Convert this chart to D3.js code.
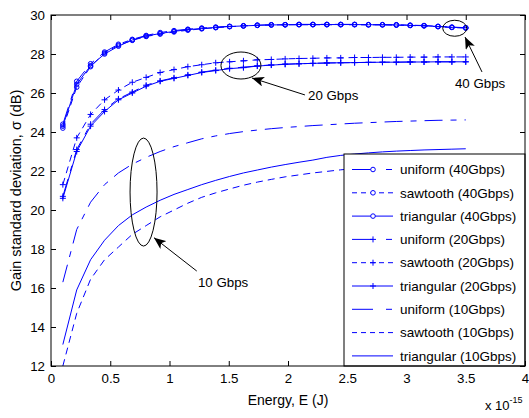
<!DOCTYPE html>
<html>
<head>
<meta charset="utf-8">
<script src="https://cdn.jsdelivr.net/npm/d3@7"></script>
<style>
  body { margin: 0; background: #fff; }
  svg text { font-family: "Liberation Sans", Arial, sans-serif; fill: #000; }
</style>
</head>
<body>
<div id="chart"></div>
<script>
// energy samples (x 1e-15 J)
const energy = [0.100, 0.217, 0.334, 0.452, 0.569, 0.686, 0.803, 0.921, 1.038, 1.155,
                1.272, 1.390, 1.507, 1.624, 1.741, 1.859, 1.976, 2.093, 2.210, 2.328,
                2.445, 2.562, 2.679, 2.797, 2.914, 3.031, 3.148, 3.266, 3.383, 3.500];

const uniform40 = [24.4, 26.6, 27.5, 28.1, 28.5, 28.75, 28.95, 29.1, 29.2, 29.27, 29.33, 29.38, 29.42, 29.45, 29.48, 29.5, 29.5, 29.52, 29.52, 29.52,
                   29.52, 29.52, 29.5, 29.5, 29.5, 29.48, 29.46, 29.42, 29.38, 29.35];
const sawtooth40 = [24.2, 26.3, 27.35, 28.05, 28.45, 28.7, 28.9, 29.02, 29.13, 29.22, 29.29, 29.35, 29.4, 29.44, 29.47, 29.49, 29.5, 29.5, 29.5, 29.5,
                    29.5, 29.5, 29.5, 29.5, 29.48, 29.46, 29.44, 29.4, 29.36, 29.33];
const triangular40 = [24.3, 26.45, 27.4, 28.0, 28.4, 28.72, 28.92, 29.05, 29.16, 29.25, 29.31, 29.36, 29.41, 29.44, 29.47, 29.49, 29.5, 29.51, 29.51, 29.51,
                      29.51, 29.51, 29.5, 29.5, 29.49, 29.47, 29.45, 29.41, 29.37, 29.34];

const uniform20 = [20.7, 23.1, 24.4, 25.15, 25.7, 26.05, 26.4, 26.62, 26.78, 26.93, 27.07, 27.17, 27.27, 27.32, 27.39, 27.44, 27.48, 27.5, 27.52, 27.54,
                   27.55, 27.56, 27.57, 27.58, 27.58, 27.59, 27.59, 27.6, 27.6, 27.6];
const sawtooth20 = [21.3, 23.7, 24.9, 25.65, 26.15, 26.55, 26.8, 27.05, 27.2, 27.35, 27.45, 27.55, 27.6, 27.65, 27.7, 27.72, 27.75, 27.77, 27.78, 27.8,
                    27.8, 27.82, 27.82, 27.83, 27.83, 27.84, 27.84, 27.85, 27.85, 27.85];
const triangular20 = [20.6, 23.0, 24.3, 25.05, 25.65, 26.0, 26.35, 26.6, 26.75, 26.9, 27.05, 27.15, 27.25, 27.3, 27.38, 27.43, 27.47, 27.5, 27.52, 27.54,
                      27.55, 27.56, 27.57, 27.58, 27.58, 27.59, 27.59, 27.6, 27.6, 27.6];

const uniform10 = [16.3, 19.0, 20.4, 21.3, 21.9, 22.35, 22.7, 23.0, 23.25, 23.45, 23.65, 23.8, 23.92, 24.02, 24.1, 24.17, 24.23, 24.28, 24.33, 24.37,
                   24.41, 24.45, 24.48, 24.51, 24.54, 24.56, 24.58, 24.6, 24.61, 24.62];
const sawtooth10 = [12.0, 14.7, 16.45, 17.45, 18.1, 18.75, 19.2, 19.65, 20.0, 20.35, 20.65, 20.88, 21.08, 21.27, 21.43, 21.57, 21.7, 21.8, 21.9, 21.98,
                    22.06, 22.13, 22.2, 22.26, 22.31, 22.36, 22.4, 22.44, 22.47, 22.5];
const triangular10 = [13.1, 15.9, 17.45, 18.45, 19.2, 19.75, 20.15, 20.5, 20.8, 21.05, 21.3, 21.52, 21.72, 21.9, 22.05, 22.2, 22.33, 22.45, 22.56, 22.7,
                      22.8, 22.87, 22.93, 22.98, 23.02, 23.05, 23.08, 23.1, 23.12, 23.14];

const seriesNames = ["uniform (40Gbps)", "sawtooth (40Gbps)", "triangular (40Gbps)",
                     "uniform (20Gbps)", "sawtooth (20Gbps)", "triangular (20Gbps)",
                     "uniform (10Gbps)", "sawtooth (10Gbps)", "triangular (10Gbps)"];
const seriesValues = [uniform40, sawtooth40, triangular40, uniform20, sawtooth20, triangular20, uniform10, sawtooth10, triangular10];
const seriesStyle = ["dashdot", "dash", "solid", "dashdot", "dash", "solid", "dashdot", "dash", "solid"];
const seriesMarker = ["circle", "circle", "circle", "plus", "plus", "plus", "none", "none", "none"];

const xTicks = [0, 0.5, 1, 1.5, 2, 2.5, 3, 3.5, 4];
const yTicks = [12, 14, 16, 18, 20, 22, 24, 26, 28, 30];

const W = 529, H = 418;
const margin = { top: 15, right: 4, bottom: 52, left: 51 };
const blue = "#0000ff";
const dashes = { solid: null, dash: "7,5", dashdot: "18,8,6,8" };
// the legend samples are shorter, matlab squeezes the pattern
const legendDashes = { solid: null, dash: "5,4", dashdot: "21,13,6,4" };

const svg = d3.select("#chart").append("svg")
    .attr("width", W).attr("height", H);

const x = d3.scaleLinear().domain([0, 4]).range([margin.left, W - margin.right]);
const y = d3.scaleLinear().domain([12, 30]).range([H - margin.bottom, margin.top]);

const line = d3.line().x(d => x(d[0])).y(d => y(d[1]));

svg.append("rect")
    .attr("x", x(0)).attr("y", y(30))
    .attr("width", x(4) - x(0)).attr("height", y(12) - y(30))
    .attr("fill", "#fff");

// ticks inside the box on all four sides, matlab style
svg.append("g").attr("transform", `translate(0,${y(12)})`)
    .call(d3.axisBottom(x).tickValues(xTicks).tickSize(-5).tickPadding(8).tickFormat(d3.format("")));
svg.append("g").attr("transform", `translate(0,${y(30)})`)
    .call(d3.axisTop(x).tickValues(xTicks).tickSize(-5).tickFormat(""));
svg.append("g").attr("transform", `translate(${x(0)},0)`)
    .call(d3.axisLeft(y).tickValues(yTicks).tickSize(-5).tickPadding(6));
svg.append("g").attr("transform", `translate(${x(4)},0)`)
    .call(d3.axisRight(y).tickValues(yTicks).tickSize(-5).tickFormat(""));

svg.selectAll(".domain").remove();
svg.selectAll(".tick line").attr("stroke", "#000");
svg.selectAll(".tick text").style("font-size", "13.3px").attr("fill", "#000");

svg.append("clipPath").attr("id", "plotclip").append("rect")
    .attr("x", x(0)).attr("y", y(30))
    .attr("width", x(4) - x(0)).attr("height", y(12) - y(30));

const plot = svg.append("g").attr("clip-path", "url(#plotclip)");

seriesValues.forEach((vals, i) => {
    const pts = energy.map((e, j) => [e, vals[j]]);
    const g = plot.append("g");
    g.append("path")
        .datum(pts)
        .attr("d", line)
        .attr("fill", "none")
        .attr("stroke", blue)
        .attr("stroke-width", 1)
        .attr("stroke-dasharray", dashes[seriesStyle[i]]);
    if (seriesMarker[i] === "circle") {
        g.selectAll("circle").data(pts).enter().append("circle")
            .attr("cx", d => x(d[0])).attr("cy", d => y(d[1])).attr("r", 2.3)
            .attr("fill", "none").attr("stroke", blue).attr("stroke-width", 1);
    } else if (seriesMarker[i] === "plus") {
        g.selectAll("path.plus").data(pts).enter().append("path")
            .attr("class", "plus")
            .attr("d", d => `M${x(d[0]) - 3},${y(d[1])}h6M${x(d[0])},${y(d[1]) - 3}v6`)
            .attr("stroke", blue).attr("stroke-width", 1);
    }
});

// annotations
const ann = svg.append("g");
svg.append("defs").append("marker")
    .attr("id", "arrow").attr("viewBox", "0 0 12 10")
    .attr("refX", 12).attr("refY", 5)
    .attr("markerWidth", 12).attr("markerHeight", 10)
    .attr("markerUnits", "userSpaceOnUse")
    .attr("orient", "auto")
    .append("path").attr("d", "M0,0 L12,5 L0,10 L3,5 Z").attr("fill", "#000");

const ellipses = [
    { cx: 1.603, cy: 27.41, rx: 20, ry: 13.5 },
    { cx: 3.407, cy: 29.32, rx: 12, ry: 8 },
    { cx: 0.781, cy: 20.92, rx: 13.5, ry: 54 }
];
ann.selectAll("ellipse").data(ellipses).enter().append("ellipse")
    .attr("cx", d => x(d.cx)).attr("cy", d => y(d.cy))
    .attr("rx", d => d.rx).attr("ry", d => d.ry)
    .attr("fill", "none").attr("stroke", "#000").attr("stroke-width", 1);

const arrows = [
    { x1: 2.143, y1: 25.9, x2: 1.696, y2: 26.77, label: "20 Gbps", lx: 2.169, ly: 25.64 },
    { x1: 3.637, y1: 27.08, x2: 3.494, y2: 28.87, label: "40 Gbps", lx: 3.409, ly: 26.27 },
    { x1: 1.23, y1: 16.87, x2: 0.869, y2: 18.58, label: "10 Gbps", lx: 1.24, ly: 16.04 }
];
ann.selectAll("line").data(arrows).enter().append("line")
    .attr("x1", d => x(d.x1)).attr("y1", d => y(d.y1))
    .attr("x2", d => x(d.x2)).attr("y2", d => y(d.y2))
    .attr("stroke", "#000").attr("stroke-width", 1)
    .attr("marker-end", "url(#arrow)");
ann.selectAll("text").data(arrows).enter().append("text")
    .attr("x", d => x(d.lx)).attr("y", d => y(d.ly))
    .style("font-size", "13.3px")
    .text(d => d.label);

// legend
const lgX = 344, lgY = 154, lgW = x(4) - 344, lgH = y(12) - 154;
const legend = svg.append("g");
legend.append("rect")
    .attr("x", lgX).attr("y", lgY).attr("width", lgW).attr("height", lgH)
    .attr("fill", "#fff").attr("stroke", "#000").attr("stroke-width", 1);

const items = legend.selectAll(".legend-item")
    .data(seriesNames.map((n, i) => i))
    .enter().append("g")
    .attr("class", "legend-item")
    .attr("transform", i => `translate(0,${lgY + 15.5 + i * 23.3})`);

items.append("line")
    .attr("x1", 352).attr("x2", 393).attr("y1", 0).attr("y2", 0)
    .attr("stroke", blue).attr("stroke-width", 1)
    .attr("stroke-dasharray", i => legendDashes[seriesStyle[i]]);
items.filter(i => seriesMarker[i] === "circle").append("circle")
    .attr("cx", 373).attr("cy", 0).attr("r", 2.3)
    .attr("fill", "#fff").attr("stroke", blue);
items.filter(i => seriesMarker[i] === "plus").append("path")
    .attr("d", "M370,0h6M373,-3v6")
    .attr("stroke", blue);
items.append("text")
    .attr("x", 400).attr("y", 0).attr("dy", "0.35em")
    .style("font-size", "13.5px")
    .text(i => seriesNames[i]);

// frame
svg.append("rect")
    .attr("x", x(0)).attr("y", y(30))
    .attr("width", x(4) - x(0)).attr("height", y(12) - y(30))
    .attr("fill", "none").attr("stroke", "#000").attr("stroke-width", 1);

// axis labels
svg.append("text")
    .attr("x", (x(0) + x(4)) / 2).attr("y", 405)
    .attr("text-anchor", "middle")
    .style("font-size", "14px")
    .text("Energy, E (J)");

const expo = svg.append("text").attr("x", 485).attr("y", 410).style("font-size", "13px");
expo.append("tspan").text("x 10");
expo.append("tspan").attr("dy", -7).style("font-size", "9px").text("-15");

svg.append("text")
    .attr("transform", `translate(21,${(y(12) + y(30)) / 2}) rotate(-90)`)
    .attr("text-anchor", "middle")
    .style("font-size", "14.5px")
    .text("Gain standard deviation, σ (dB)");
</script>
</body>
</html>
